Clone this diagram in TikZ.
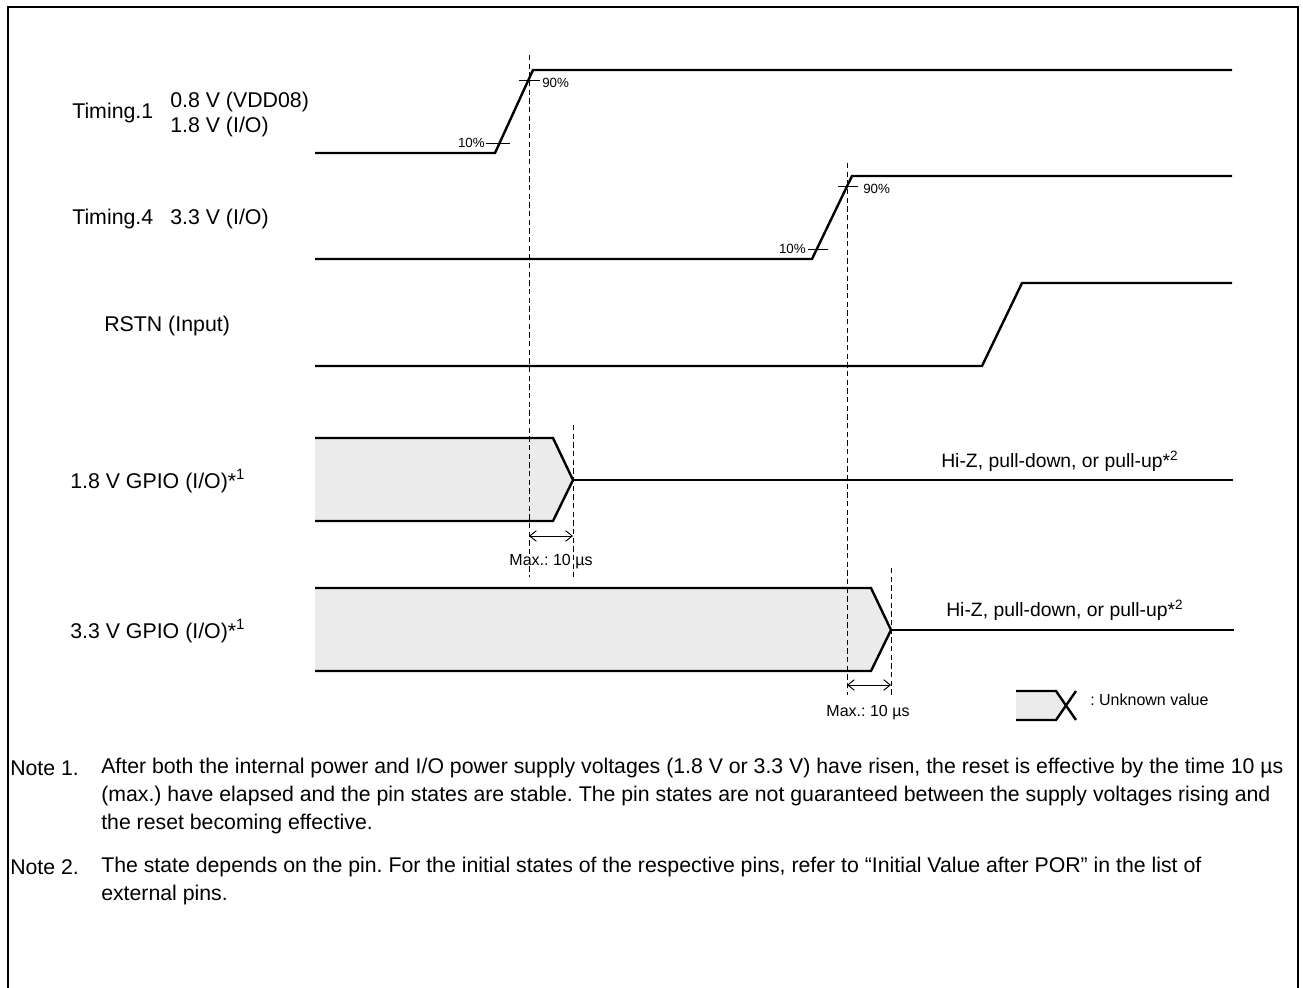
\documentclass[tikz,border=0pt]{standalone}
\usepackage{fontspec}
\setmainfont{Liberation Sans}
\usetikzlibrary{arrows.meta}
\definecolor{unk}{HTML}{EBEBEB}
\frenchspacing
\begin{document}
\begin{tikzpicture}[x=0.75pt,y=-0.75pt,
  wave/.style={line width=1.8pt, line join=miter},
  frameline/.style={line width=1.9pt},
  guide/.style={line width=0.6pt, dash pattern=on 4pt off 2.5pt},
  tickline/.style={line width=0.7pt},
  dim/.style={line width=0.7pt, {Straight Barb[length=5pt,width=8pt]}-{Straight Barb[length=5pt,width=8pt]}},
  lbl/.style={font=\fontsize{16}{19}\selectfont, inner sep=0pt, anchor=west},
  mid/.style={font=\fontsize{14.5}{17}\selectfont, inner sep=0pt, anchor=west},
  small/.style={font=\fontsize{12}{14}\selectfont, inner sep=0pt},
  pct/.style={font=\fontsize{10}{12}\selectfont, inner sep=0pt},
  note/.style={font=\fontsize{15.95}{19}\selectfont, inner sep=0pt, anchor=west}]
\useasboundingbox (0,0) rectangle (1303,988);
% frame (open at the bottom)
\draw[frameline] (8,988) -- (8,7) -- (1298,7) -- (1298,988);

% ---- labels
\node[lbl] (t1) at (72,113) {Timing.1};
\node[lbl] (t1a) at (170,102) {0.8 V (VDD08)};
\node[lbl] (t1b) at (170,127) {1.8 V (I/O)};
\node[lbl] (t4) at (72,219) {Timing.4};
\node[lbl] (t4a) at (170,219) {3.3 V (I/O)};
\node[lbl] (rs) at (104,326) {RSTN (Input)};
\node[lbl] (g1) at (70,481) {1.8 V GPIO (I/O)*\textsuperscript{1}};
\node[lbl] (g2) at (70,631) {3.3 V GPIO (I/O)*\textsuperscript{1}};

% ---- Timing.1
\coordinate (a0) at (315,153);
\coordinate (a1) at (495,153);
\coordinate (a2) at (533,70);
\coordinate (a3) at (1232,70);
\draw[wave] (a0) -- (a1) -- (a2) -- (a3);
\draw[tickline] (486,143) -- (510,143);
\draw[tickline] (519,80) -- (540,80);
\node[pct, anchor=east] (p10a) at (485,143) {10\%};
\node[pct, anchor=west] (p90a) at (542,83) {90\%};

% ---- Timing.4
\coordinate (b0) at (315,259);
\coordinate (b1) at (812,259);
\coordinate (b2) at (852,176);
\coordinate (b3) at (1232,176);
\draw[wave] (b0) -- (b1) -- (b2) -- (b3);
\draw[tickline] (808,249) -- (828,249);
\draw[tickline] (838,186) -- (858,186);
\node[pct, anchor=east] (p10b) at (806,249) {10\%};
\node[pct, anchor=west] (p90b) at (863,189) {90\%};

% ---- RSTN
\coordinate (c0) at (315,366);
\coordinate (c1) at (982,366);
\coordinate (c2) at (1022,283);
\coordinate (c3) at (1232,283);
\draw[wave] (c0) -- (c1) -- (c2) -- (c3);

% ---- 1.8 V GPIO
\coordinate (d0) at (315,438);
\coordinate (d1) at (553,438);
\coordinate (d2) at (573,480);
\coordinate (d3) at (553,521);
\coordinate (d4) at (315,521);
\coordinate (d5) at (1233,480);
\fill[unk] (d0) -- (d1) -- (d2) -- (d3) -- (d4) -- cycle;
\draw[wave] (d0) -- (d1) -- (d2) -- (d3) -- (d4);
\draw[wave] (d2) -- (d5);
\node[mid, anchor=base west] (hz1) at (941,467) {Hi-Z, pull-down, or pull-up*\textsuperscript{2}};

% ---- 3.3 V GPIO
\coordinate (e0) at (315,588);
\coordinate (e1) at (871,588);
\coordinate (e2) at (891,630);
\coordinate (e3) at (871,671);
\coordinate (e4) at (315,671);
\coordinate (e5) at (1234,630);
\fill[unk] (e0) -- (e1) -- (e2) -- (e3) -- (e4) -- cycle;
\draw[wave] (e0) -- (e1) -- (e2) -- (e3) -- (e4);
\draw[wave] (e2) -- (e5);
\node[mid, anchor=base west] (hz2) at (946,616) {Hi-Z, pull-down, or pull-up*\textsuperscript{2}};

% ---- dashed guides
\coordinate (v1t) at (529,55);
\coordinate (v1b) at (529,577);
\coordinate (v2t) at (573,425);
\coordinate (v2b) at (573,577);
\coordinate (v3t) at (847,163);
\coordinate (v3b) at (847,695);
\coordinate (v4t) at (891,568);
\coordinate (v4b) at (891,695);
\draw[guide] (v1t) -- (v1b);
\draw[guide] (v2t) -- (v2b);
\draw[guide] (v3t) -- (v3b);
\draw[guide] (v4t) -- (v4b);

% ---- Max arrows
\coordinate (m1l) at (529,536);
\coordinate (m1r) at (573,536);
\coordinate (m2l) at (847,685);
\coordinate (m2r) at (891,685);
\draw[dim] (m1l) -- (m1r);
\draw[dim] (m2l) -- (m2r);
\node[small] (mx1) at (551,562) {Max.: 10 µs};
\node[small] (mx2) at (868,713) {Max.: 10 µs};

% ---- legend
\coordinate (l0) at (1016,691);
\coordinate (l1) at (1056,691);
\coordinate (l2) at (1066,705.5);
\coordinate (l3) at (1056,720);
\coordinate (l4) at (1016,720);
\coordinate (l5) at (1076,720);
\coordinate (l6) at (1076,691);
\fill[unk] (l0) -- (l1) -- (l2) -- (l3) -- (l4) -- cycle;
\draw[wave] (l0) -- (l1) -- (l5);
\draw[wave] (l4) -- (l3) -- (l6);
\node[small, anchor=west] (lg) at (1090,700) {: Unknown value};

% ---- notes
\node[note] (n1) at (10,768) {Note 1.};
\node[note] (n1a) at (101,768) {After both the internal power and I/O power supply voltages (1.8 V or 3.3 V) have risen, the reset is effective by the time 10 µs};
\node[note] (n1b) at (101,796) {(max.) have elapsed and the pin states are stable. The pin states are not guaranteed between the supply voltages rising and};
\node[note] (n1c) at (101,824) {the reset becoming effective.};
\node[note] (n2) at (10,867) {Note 2.};
\node[note] (n2a) at (101,867) {The state depends on the pin. For the initial states of the respective pins, refer to “Initial Value after POR” in the list of};
\node[note] (n2b) at (101,895) {external pins.};
\end{tikzpicture}
\end{document}
